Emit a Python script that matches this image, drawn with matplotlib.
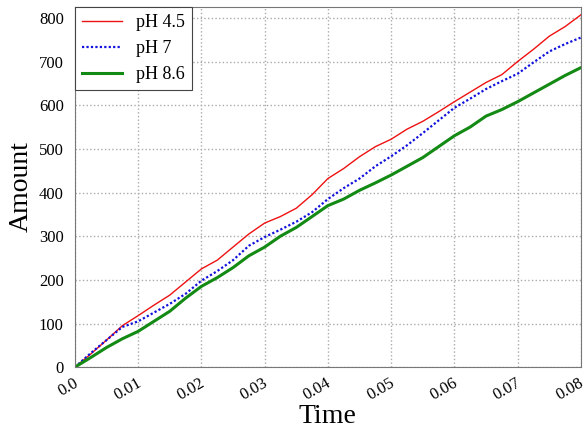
import matplotlib
matplotlib.use('Agg')
import matplotlib.pyplot as plt
import matplotlib.transforms as mtransforms

plt.rcParams['font.family'] = ['Liberation Serif', 'DejaVu Serif']

time = [0.0, 0.0025, 0.005, 0.0075, 0.01, 0.0125, 0.015, 0.0175, 0.02, 0.0225,
        0.025, 0.0275, 0.03, 0.0325, 0.035, 0.0375, 0.04, 0.0425, 0.045, 0.0475,
        0.05, 0.0525, 0.055, 0.0575, 0.06, 0.0625, 0.065, 0.0675, 0.07, 0.0725,
        0.075, 0.0775, 0.08]

ph45 = [0, 30, 62, 95, 118, 142, 165, 195, 225, 245,
        275, 305, 330, 345, 364, 395, 432, 455, 482, 505,
        522, 545, 563, 585, 608, 630, 652, 670, 700, 728,
        758, 780, 807]

ph7 = [0, 32, 62, 92, 105, 125, 145, 168, 198, 220,
       245, 278, 298, 315, 333, 355, 385, 410, 432, 460,
       483, 508, 536, 565, 594, 615, 637, 655, 672, 698,
       723, 740, 755]

ph86 = [0, 22, 45, 65, 82, 105, 128, 158, 185, 205,
        228, 255, 275, 300, 320, 345, 370, 385, 405, 422,
        440, 460, 480, 505, 530, 550, 575, 590, 608, 628,
        648, 668, 686]

xticks = [0.0, 0.01, 0.02, 0.03, 0.04, 0.05, 0.06, 0.07, 0.08]
xtick_labels = ['0.0', '0.01', '0.02', '0.03', '0.04', '0.05', '0.06', '0.07', '0.08']

fig = plt.figure(figsize=(5.85, 4.34), dpi=100)
ax = fig.add_axes([0.128, 0.154, 0.865, 0.830])

ax.plot(time, ph45, color='#ee1111', lw=1.0, label='pH 4.5')
ax.plot(time, ph7, color='#1111dd', lw=1.6, ls=(0, (1, 1)), label='pH 7')
ax.plot(time, ph86, color='#138a13', lw=2.2, label='pH 8.6')

ax.set_xlim(0, 0.08)
ax.set_ylim(0, 825)
ax.set_xticks(xticks)
ax.set_xticklabels(xtick_labels, rotation=30, ha='right')
ax.set_yticks(range(0, 801, 100))
ax.tick_params(length=0, labelsize=12)
ax.tick_params(axis='y', pad=8)
ax.tick_params(axis='x', pad=6)
shift = mtransforms.ScaledTranslation(6 / 100, 0, fig.dpi_scale_trans)
for lbl in ax.get_xticklabels():
    lbl.set_transform(lbl.get_transform() + shift)
ax.grid(True, ls=':', color='#aaaaaa', lw=1)
for s in ax.spines.values():
    s.set_color('#777777')

ax.set_xlabel('Time', fontsize=20, labelpad=0)
ax.set_ylabel('Amount', fontsize=20, labelpad=4)

leg = ax.legend(loc='upper left', fontsize=13, fancybox=False, framealpha=1,
                edgecolor='#444444', handlelength=2.2, borderaxespad=0.0)
leg.get_frame().set_linewidth(0.8)

fig.savefig('out.png', dpi=100)
